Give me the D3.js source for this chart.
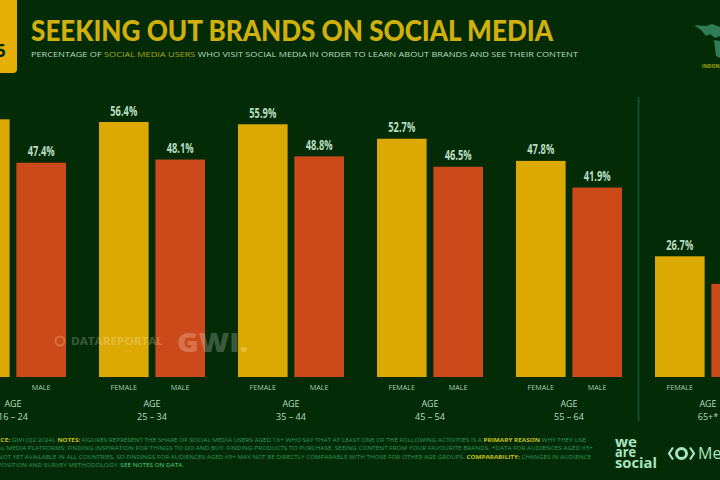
<!DOCTYPE html>
<html>
<head>
<meta charset="utf-8">
<script src="https://cdnjs.cloudflare.com/ajax/libs/d3/7.8.5/d3.min.js"></script>
<style>
html,body{margin:0;padding:0;background:#032b06;overflow:hidden}
svg{display:block}
text{font-family:"Open Sans",sans-serif}
.title{font-family:Lato,sans-serif}
</style>
</head>
<body>
<svg id="chart" width="720" height="480"></svg>
<script>
// Share of social media users who look for brand content, by age and gender
const ageGroups = ["16 – 24", "25 – 34", "35 – 44", "45 – 54", "55 – 64", "65+"];
const genders = ["FEMALE", "MALE"];
const femaleValues = [57.0, 56.4, 55.9, 52.7, 47.8, 26.7];
const maleValues = [47.4, 48.1, 48.8, 46.5, 41.9, 20.6];
const noteLines = [
  "SOURCE: GWI (Q2 2024). NOTES: FIGURES REPRESENT THE SHARE OF SOCIAL MEDIA USERS AGED 16+ WHO SAY THAT AT LEAST ONE OF THE FOLLOWING ACTIVITIES IS A PRIMARY REASON WHY THEY USE",
  "SOCIAL MEDIA PLATFORMS: FINDING INSPIRATION FOR THINGS TO DO AND BUY, FINDING PRODUCTS TO PURCHASE, SEEING CONTENT FROM YOUR FAVOURITE BRANDS. *DATA FOR AUDIENCES AGED 65+",
  "MAY NOT YET AVAILABLE IN ALL COUNTRIES, SO FINDINGS FOR AUDIENCES AGED 65+ MAY NOT BE DIRECTLY COMPARABLE WITH THOSE FOR OTHER AGE GROUPS. COMPARABILITY: CHANGES IN AUDIENCE",
  "COMPOSITION AND SURVEY METHODOLOGY. SEE NOTES ON DATA."
];
const noteEmphasis = ["SOURCE:", "NOTES:", "PRIMARY REASON", "COMPARABILITY:"];
const noteLink = "SEE NOTES ON DATA.";
const noteEnds = [586, 593, 591, 184];

const svg = d3.select("#chart");
const gold = "#dca802", rust = "#cc4a1a", pale = "#b8dcc0", deep = "#032b06";

const baseline = 377;
const x = d3.scaleBand().domain(ageGroups).range([-56.5, 777.5]);
const xGender = d3.scaleBand().domain(genders).range([0, 106]).paddingInner(0.12);
const y = d3.scaleLinear().domain([0, 56.4]).range([baseline, 122]);

// Header
svg.append("rect").attr("x", -20).attr("y", -10).attr("width", 37).attr("height", 83)
  .attr("rx", 4).attr("fill", "#e6ae07");
svg.append("text").attr("x", -4).attr("y", 57).attr("font-size", 17).attr("font-weight", 700)
  .attr("fill", deep).text("5");
svg.append("text").attr("class", "title").attr("x", 31).attr("y", 41)
  .attr("font-size", 27.5).attr("font-weight", 900).attr("fill", "#d2b00a")
  .attr("textLength", 522).attr("lengthAdjust", "spacingAndGlyphs")
  .text("SEEKING OUT BRANDS ON SOCIAL MEDIA");

const sub = svg.append("text").attr("x", 31).attr("y", 57).attr("font-size", 7.6)
  .attr("fill", pale).attr("textLength", 547).attr("lengthAdjust", "spacingAndGlyphs");
sub.append("tspan").text("PERCENTAGE OF ");
sub.append("tspan").attr("fill", "#a8a814").text("SOCIAL MEDIA USERS");
sub.append("tspan").text(" WHO VISIT SOCIAL MEDIA IN ORDER TO LEARN ABOUT BRANDS AND SEE THEIR CONTENT");

// Corner world-map badge
const badge = svg.append("g").attr("fill", "#2f7d55");
badge.append("path").attr("d", "M694 25 L706 26 L712 24 L720 27 L720 36 L715 38 L710 34 L706 36 L701 30 Z");
badge.append("path").attr("d", "M714 40 L720 41 L720 58 L716 56 Z");
svg.append("text").attr("x", 702).attr("y", 68).attr("font-size", 5).attr("font-weight", 700)
  .attr("fill", "#a8a814").text("INDONESIA");

const groups = svg.selectAll("g.age").data(ageGroups).join("g").attr("class", "age")
  .attr("transform", d => `translate(${x(d) + (x.bandwidth() - 106) / 2},0)`);

genders.forEach((g, gi) => {
  const vals = gi === 0 ? femaleValues : maleValues;
  const colour = gi === 0 ? gold : rust;
  groups.append("rect")
    .attr("x", xGender(g))
    .attr("y", (d, i) => y(vals[i]))
    .attr("width", xGender.bandwidth())
    .attr("height", (d, i) => baseline - y(vals[i]))
    .attr("fill", colour);
  groups.append("text")
    .attr("x", xGender(g) + xGender.bandwidth() / 2)
    .attr("y", (d, i) => y(vals[i]) - 6.5)
    .attr("text-anchor", "middle")
    .attr("font-family", "'Liberation Sans Narrow','Roboto',sans-serif")
    .attr("font-size", 13.5).attr("font-weight", 700)
    .attr("textLength", 27).attr("lengthAdjust", "spacingAndGlyphs")
    .attr("fill", pale)
    .text((d, i) => vals[i].toFixed(1) + "%");
  groups.append("text")
    .attr("x", xGender(g) + xGender.bandwidth() / 2)
    .attr("y", 390)
    .attr("text-anchor", "middle").attr("font-size", 7.2)
    .attr("fill", "#a3cdb0").text(g);
});

groups.append("text").attr("x", 53).attr("y", 407).attr("text-anchor", "middle")
  .attr("font-size", 9).attr("fill", pale).text("AGE");
groups.append("text").attr("x", 53).attr("y", 420).attr("text-anchor", "middle")
  .attr("font-size", 9).attr("fill", pale).text(d => d === "65+" ? "65+*" : d);

// Separator before the oldest cohort
svg.append("line").attr("x1", 638.5).attr("x2", 638.5).attr("y1", 97).attr("y2", 421)
  .attr("stroke", "#11502a").attr("stroke-width", 2);

// Watermarks
svg.append("circle").attr("cx", 60).attr("cy", 341).attr("r", 4.5)
  .attr("fill", "none").attr("stroke", "#e08a55").attr("stroke-width", 2).attr("opacity", 0.6);
svg.append("text").attr("x", 71).attr("y", 345).attr("font-size", 10).attr("font-weight", 700)
  .attr("fill", "#ffffff").attr("opacity", 0.22)
  .attr("textLength", 92).attr("lengthAdjust", "spacingAndGlyphs").text("DATAREPORTAL");
svg.append("text").attr("x", 177).attr("y", 352).attr("font-size", 27).attr("font-weight", 800)
  .attr("fill", "#ffffff").attr("opacity", 0.22)
  .attr("textLength", 71).attr("lengthAdjust", "spacingAndGlyphs").text("GWI.");

// Footnote, with key terms picked out
const notes = svg.append("g").attr("font-size", 5.1).attr("fill", "#2f9a58");
const splitter = new RegExp("(" + noteEmphasis.concat(noteLink).map(s => s.replace(".", "\\.")).join("|") + ")");
noteLines.forEach((t, i) => {
  const line = notes.append("text").attr("x", -17).attr("y", 442 + i * 8.4)
    .attr("textLength", noteEnds[i] + 17).attr("lengthAdjust", "spacingAndGlyphs");
  t.split(splitter).forEach(part => {
    const span = line.append("tspan").text(part);
    if (noteEmphasis.includes(part)) span.attr("fill", "#c9c214").attr("font-weight", 700);
    if (part === noteLink) span.attr("fill", "#4ed487");
  });
});

// Publisher marks
const we = svg.append("g").attr("font-family", "Lato,sans-serif").attr("font-size", 14)
  .attr("font-weight", 700).attr("fill", "#a8e6c0");
const wordEnds = [22, 21, 42];
["we", "are", "social"].forEach((t, i) => {
  we.append("text").attr("x", 615).attr("y", [447, 457, 468][i])
    .attr("textLength", wordEnds[i]).attr("lengthAdjust", "spacingAndGlyphs").text(t);
});
const mark = svg.append("g").attr("fill", "none").attr("stroke", "#a8e6c0");
mark.append("circle").attr("cx", 681.5).attr("cy", 453.5).attr("r", 5).attr("stroke-width", 3);
mark.append("path").attr("stroke-width", 2.2).attr("d", "M673 447.5 L669 453.5 L673 459.5");
mark.append("path").attr("stroke-width", 2.2).attr("d", "M690 447.5 L694 453.5 L690 459.5");
svg.append("text").attr("x", 698).attr("y", 459).attr("font-size", 16)
  .attr("font-family", "Lato,sans-serif").attr("fill", "#a8e6c0").text("Meltwater");
</script>
</body>
</html>
